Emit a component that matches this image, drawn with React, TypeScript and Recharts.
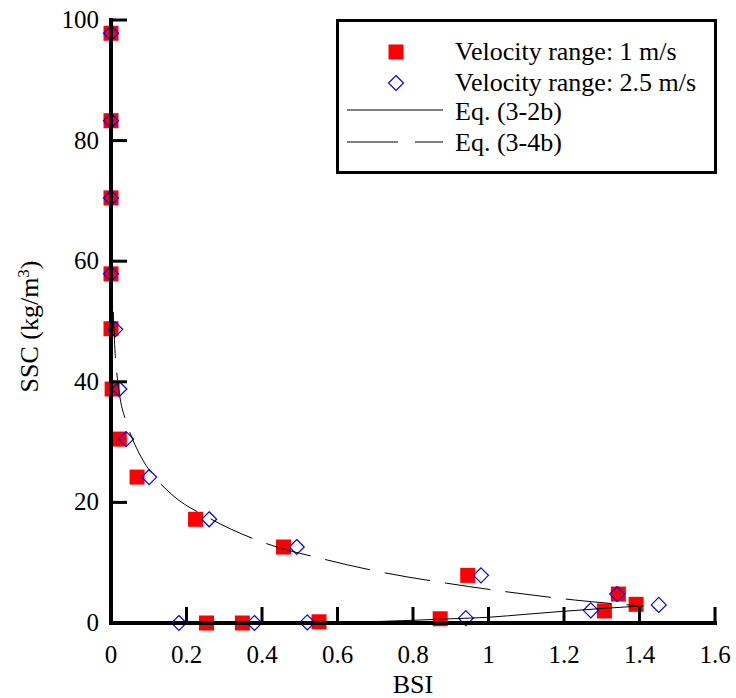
import React from 'react';
import { ScatterChart, Scatter, XAxis, YAxis } from 'recharts';

// Velocity range 1 m/s
const bsi1 = [0, 0, 0, 0, 0, 0.003, 0.022, 0.069, 0.224, 0.457, 0.253, 0.348, 0.551, 0.945, 0.872, 1.307, 1.344, 1.391];
const ssc1 = [97.8, 83.3, 70.5, 57.9, 48.8, 38.8, 30.5, 24.2, 17.2, 12.6, 0, 0, 0.2, 7.9, 0.7, 2.0, 4.8, 3.1];

// Velocity range 2.5 m/s
const bsi25 = [0, 0, 0, 0, 0.011, 0.022, 0.04, 0.101, 0.26, 0.492, 0.18, 0.38, 0.52, 0.98, 0.94, 1.271, 1.341, 1.451];
const ssc25 = [97.8, 83.3, 70.5, 57.9, 48.7, 38.8, 30.5, 24.2, 17.2, 12.6, 0, 0, 0.1, 7.9, 0.8, 2.1, 4.8, 3.0];

// Eq. (3-2b), solid
const eq32bBsi = [0.686, 0.8, 0.9, 1.0, 1.1, 1.2, 1.3, 1.41];
const eq32bSsc = [0.2, 0.45, 0.7, 0.95, 1.45, 1.95, 2.4, 2.85];

// Eq. (3-4b), dashed
const eq34bBsi = [0.006, 0.011, 0.015, 0.022, 0.04, 0.057, 0.08, 0.127, 0.161, 0.26, 0.406, 0.563, 0.727, 0.889, 1.057, 1.23, 1.41];
const eq34bSsc = [51.6, 44.7, 41.7, 38.1, 33.4, 30.5, 27.5, 23.4, 21.3, 17.4, 13.3, 10.6, 8.3, 6.6, 5.1, 3.8, 2.8];

const xTicks = [0, 0.2, 0.4, 0.6, 0.8, 1, 1.2, 1.4, 1.6];
const yTicks = [0, 20, 40, 60, 80, 100];

const toPoints = (xs: number[], ys: number[]) => xs.map((x, i) => ({ x, y: ys[i] }));

const FONT = 'Liberation Serif';
const TM = 8; // tickMargin
const frame = { stroke: '#000', strokeWidth: 4, strokeLinecap: 'square' as const };

const RedSquare = (p: any) => (
  <rect x={p.cx - 7.5} y={p.cy - 7.5} width={15} height={15} fill="#ff0000" />
);

const BlueDiamond = (p: any) => (
  <path
    d={`M${p.cx},${p.cy - 7.5}L${p.cx + 7.5},${p.cy}L${p.cx},${p.cy + 7.5}L${p.cx - 7.5},${p.cy}Z`}
    fill="none"
    stroke="#0000ff"
    strokeWidth={1.2}
  />
);

const NoDot = () => <g />;

// ticks point inward, labels sit outside
const BottomTick = (p: any) => {
  const axisY = p.y - TM;
  return (
    <g>
      <line x1={p.x} x2={p.x} y1={axisY} y2={axisY - 16} stroke="#000" strokeWidth={3} />
      <text x={p.x} y={axisY + 40} textAnchor="middle" fontSize={25} fontFamily={FONT} fill="#000">
        {p.payload.value}
      </text>
    </g>
  );
};

const LeftTick = (p: any) => {
  const axisX = p.x + TM;
  return (
    <g>
      <line x1={axisX} x2={axisX + 16} y1={p.y} y2={p.y} stroke="#000" strokeWidth={3} />
      <text x={axisX - 12} y={p.y + 8} textAnchor="end" fontSize={25} fontFamily={FONT} fill="#000">
        {p.payload.value}
      </text>
    </g>
  );
};

const YTitle = (lp: any) => {
  const vb = lp.viewBox;
  const cx = vb.x + 38;
  const cy = vb.y + vb.height / 2 + 5;
  return (
    <text x={cx} y={cy} transform={`rotate(-90 ${cx} ${cy})`} textAnchor="middle" fontSize={26} fontFamily={FONT} fill="#000">
      SSC (kg/m<tspan dy={-9} fontSize={17}>3</tspan><tspan dy={9}>)</tspan>
    </text>
  );
};

const XTitle = (lp: any) => {
  const vb = lp.viewBox;
  return (
    <text x={vb.x + vb.width / 2} y={vb.y + 70} textAnchor="middle" fontSize={26} fontFamily={FONT} fill="#000">
      BSI
    </text>
  );
};

const LegendBox = () => (
  <div
    style={{
      position: 'absolute',
      left: 336,
      top: 19,
      width: 381,
      height: 155,
      background: '#fff',
      border: '3px solid #000',
      boxSizing: 'border-box',
    }}
  >
    <svg width={375} height={149} style={{ position: 'absolute', left: 0, top: 0 }}>
      <rect x={49.5} y={22.5} width={15} height={15} fill="#ff0000" />
      <path d="M57,53.5L64.5,61L57,68.5L49.5,61Z" fill="none" stroke="#0000ff" strokeWidth={1.2} />
      <line x1={8} x2={104} y1={88} y2={88} stroke="#000" strokeWidth={1} />
      <line x1={8} x2={104} y1={120} y2={120} stroke="#000" strokeWidth={1} strokeDasharray="51 17" />
      <text x={116} y={38} fontSize={26} fontFamily={FONT} fill="#000">Velocity range: 1 m/s</text>
      <text x={116} y={68.5} fontSize={26} fontFamily={FONT} fill="#000">Velocity range: 2.5 m/s</text>
      <text x={116} y={98} fontSize={26} fontFamily={FONT} fill="#000">Eq. (3-2b)</text>
      <text x={116} y={129} fontSize={26} fontFamily={FONT} fill="#000">Eq. (3-4b)</text>
    </svg>
  </div>
);

export default function App() {
  return (
    <div style={{ position: 'absolute', left: 0, top: 0, width: 736, height: 698, background: '#fff' }}>
      <ScatterChart width={736} height={698} margin={{ top: 20, right: 21, bottom: 0, left: 0 }}>
        <Scatter data={toPoints(bsi1, ssc1)} shape={RedSquare} zIndex={100} isAnimationActive={false} />
        <Scatter data={toPoints(bsi25, ssc25)} shape={BlueDiamond} zIndex={110} isAnimationActive={false} />
        <Scatter
          data={toPoints(eq32bBsi, eq32bSsc)}
          shape={NoDot}
          line={{ stroke: '#000', strokeWidth: 1 }}
          lineJointType="monotoneX"
          zIndex={120}
          isAnimationActive={false}
        />
        <Scatter
          data={toPoints(eq34bBsi, eq34bSsc)}
          shape={NoDot}
          line={{ stroke: '#000', strokeWidth: 1, strokeDasharray: '46 15' }}
          lineJointType="monotoneX"
          zIndex={120}
          isAnimationActive={false}
        />
        <XAxis
          dataKey="x"
          type="number"
          domain={[0, 1.6]}
          ticks={xTicks}
          interval={0}
          height={75}
          tickSize={0}
          tickMargin={TM}
          tickLine={false}
          axisLine={frame}
          tick={BottomTick}
          label={{ content: XTitle }}
        />
        <YAxis
          dataKey="y"
          type="number"
          domain={[0, 100]}
          ticks={yTicks}
          interval={0}
          width={111}
          tickSize={0}
          tickMargin={TM}
          tickLine={false}
          axisLine={frame}
          tick={LeftTick}
          label={{ content: YTitle }}
        />
        <XAxis
          xAxisId="top"
          orientation="top"
          type="number"
          domain={[0, 1.6]}
          ticks={xTicks}
          interval={0}
          height={0}
          mirror
          tick={false}
          tickSize={16}
          tickLine={{ stroke: '#000', strokeWidth: 3 }}
          axisLine={frame}
        />
        <YAxis
          yAxisId="right"
          orientation="right"
          type="number"
          domain={[0, 100]}
          ticks={yTicks}
          interval={0}
          width={0}
          mirror
          tick={false}
          tickSize={16}
          tickLine={{ stroke: '#000', strokeWidth: 3 }}
          axisLine={frame}
        />
      </ScatterChart>
      <LegendBox />
    </div>
  );
}
